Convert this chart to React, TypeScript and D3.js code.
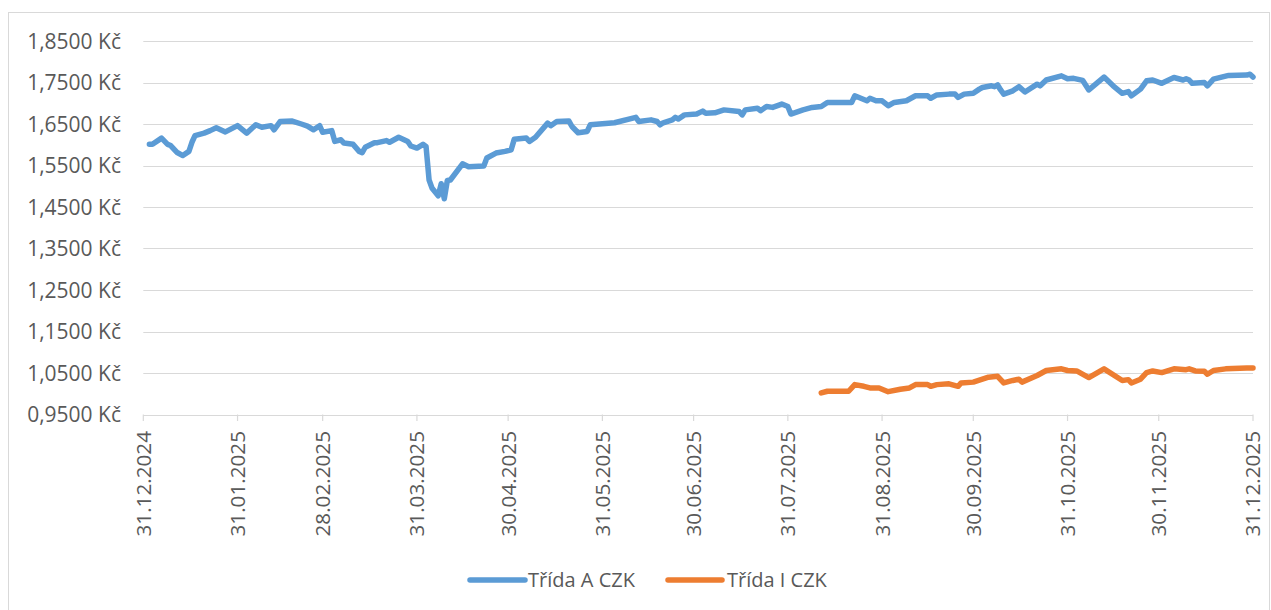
import React from "react";
import * as d3 from "d3";

// Day offsets counted from 31.12.2024, and values (CZK)
const daysA = [2, 3, 6, 8, 9, 11, 13, 15, 16, 17, 20, 22, 24, 27, 31, 34, 37, 39, 42, 43, 45, 49, 52, 54, 56, 58, 59, 62, 63, 65, 66, 69, 71, 72, 73, 76, 77, 80, 81, 84, 87, 88, 90, 92, 93, 94, 95, 97, 98, 99, 100, 101, 105, 107, 112, 113, 116, 119, 121, 122, 126, 127, 129, 133, 134, 136, 140, 141, 143, 146, 147, 155, 162, 163, 167, 169, 170, 171, 174, 175, 176, 178, 182, 184, 185, 188, 191, 196, 197, 198, 202, 203, 205, 207, 210, 212, 213, 217, 220, 223, 225, 228, 233, 234, 236, 238, 239, 241, 243, 245, 247, 251, 254, 258, 259, 261, 265, 267, 268, 270, 273, 275, 276, 279, 280, 281, 282, 283, 286, 288, 290, 294, 295, 297, 302, 304, 306, 309, 311, 316, 319, 322, 324, 325, 328, 330, 332, 335, 339, 342, 343, 344, 345, 349, 350, 352, 357, 363, 364, 365];
const valuesA = [1.601, 1.601, 1.616, 1.601, 1.598, 1.582, 1.574, 1.584, 1.606, 1.622, 1.628, 1.634, 1.641, 1.631, 1.646, 1.628, 1.648, 1.642, 1.646, 1.636, 1.656, 1.657, 1.650, 1.645, 1.636, 1.646, 1.630, 1.634, 1.608, 1.612, 1.604, 1.601, 1.584, 1.581, 1.594, 1.605, 1.605, 1.610, 1.606, 1.618, 1.608, 1.597, 1.592, 1.601, 1.596, 1.515, 1.495, 1.477, 1.506, 1.470, 1.514, 1.515, 1.554, 1.547, 1.549, 1.568, 1.580, 1.584, 1.588, 1.613, 1.616, 1.608, 1.618, 1.652, 1.646, 1.656, 1.657, 1.644, 1.629, 1.632, 1.648, 1.653, 1.666, 1.656, 1.660, 1.656, 1.648, 1.653, 1.660, 1.666, 1.662, 1.672, 1.674, 1.681, 1.676, 1.677, 1.684, 1.680, 1.672, 1.684, 1.688, 1.682, 1.692, 1.690, 1.698, 1.692, 1.674, 1.684, 1.690, 1.692, 1.702, 1.702, 1.702, 1.718, 1.712, 1.706, 1.712, 1.706, 1.706, 1.694, 1.702, 1.706, 1.718, 1.718, 1.712, 1.720, 1.722, 1.722, 1.714, 1.722, 1.724, 1.734, 1.738, 1.742, 1.740, 1.744, 1.732, 1.722, 1.730, 1.740, 1.727, 1.746, 1.742, 1.756, 1.766, 1.759, 1.760, 1.755, 1.732, 1.763, 1.742, 1.724, 1.728, 1.718, 1.734, 1.754, 1.756, 1.748, 1.762, 1.756, 1.759, 1.756, 1.748, 1.750, 1.742, 1.758, 1.767, 1.768, 1.770, 1.763];

const daysI = [223, 225, 232, 234, 237, 239, 242, 245, 249, 252, 254, 258, 259, 261, 265, 268, 269, 273, 276, 278, 281, 283, 286, 288, 289, 294, 297, 302, 304, 307, 311, 316, 322, 324, 325, 328, 330, 332, 335, 339, 343, 344, 346, 349, 350, 352, 356, 363, 365];
const valuesI = [1.002, 1.006, 1.006, 1.022, 1.018, 1.014, 1.014, 1.005, 1.011, 1.014, 1.022, 1.022, 1.018, 1.022, 1.024, 1.018, 1.026, 1.028, 1.035, 1.040, 1.042, 1.026, 1.032, 1.035, 1.028, 1.044, 1.056, 1.060, 1.056, 1.055, 1.039, 1.060, 1.032, 1.034, 1.026, 1.035, 1.051, 1.055, 1.051, 1.060, 1.058, 1.060, 1.055, 1.054, 1.047, 1.056, 1.060, 1.062, 1.062];

const xTickLabels = ["31.12.2024", "31.01.2025", "28.02.2025", "31.03.2025", "30.04.2025", "31.05.2025", "30.06.2025", "31.07.2025", "31.08.2025", "30.09.2025", "31.10.2025", "30.11.2025", "31.12.2025"];
const yTicks = [0.95, 1.05, 1.15, 1.25, 1.35, 1.45, 1.55, 1.65, 1.75, 1.85];
const seriesNames = ["Třída A CZK", "Třída I CZK"];
const seriesColors = ["#5B9BD5", "#ED7D31"];

const W = 1271;
const H = 610;
const FONT = "'Open Sans', 'Noto Sans', sans-serif";
const TEXT = "#595959";
const GRID = "#d9d9d9";

export default function App() {
  const parse = d3.utcParse("%d.%m.%Y");
  const start = parse(xTickLabels[0]) as Date;
  const end = parse(xTickLabels[xTickLabels.length - 1]) as Date;
  const x = d3.scaleUtc().domain([start, end]).range([143.3, 1253]);
  const y = d3.scaleLinear().domain([0.95, 1.85]).range([414.5, 41]);
  const toDate = (d: number) => d3.utcDay.offset(start, d);

  const line = d3
    .line<[number, number]>()
    .x((p) => x(toDate(p[0])))
    .y((p) => y(p[1]))
    .curve(d3.curveLinear);

  const dataA: [number, number][] = daysA.map((d, i) => [d, valuesA[i]]);
  const dataI: [number, number][] = daysI.map((d, i) => [d, valuesI[i]]);
  const fmt = (v: number) => v.toFixed(4).replace(".", ",") + " Kč";

  const legendItems = [
    { x1: 470, x2: 525, tx: 528 },
    { x1: 668, x2: 722, tx: 727 },
  ];

  return (
    <svg
      width={W}
      height={H}
      style={{ position: "absolute", left: 0, top: 0, background: "#fff" }}
      fontFamily={FONT}
    >
      <rect x={8.5} y={12.5} width={1261} height={610} fill="#fff" stroke={GRID} strokeWidth={1} />
      {yTicks.map((t) => (
        <g key={t}>
          <line x1={143.3} x2={1253} y1={Math.round(y(t)) + 0.5} y2={Math.round(y(t)) + 0.5} stroke={GRID} strokeWidth={1.2} />
          <text x={121} y={y(t)} dy="0.36em" textAnchor="end" fontSize={21} fill={TEXT}>
            {fmt(t)}
          </text>
        </g>
      ))}
      {xTickLabels.map((lab) => {
        const xp = x(parse(lab) as Date);
        return (
          <g key={lab}>
            <line x1={xp} x2={xp} y1={414.5} y2={421} stroke={GRID} strokeWidth={1.2} />
            <text
              transform={`translate(${xp},431) rotate(-90)`}
              dy="0.36em"
              textAnchor="end"
              fontSize={20.7}
              fill={TEXT}
            >
              {lab}
            </text>
          </g>
        );
      })}
      <path d={line(dataA) || ""} fill="none" stroke={seriesColors[0]} strokeWidth={5.5} strokeLinejoin="round" strokeLinecap="round" />
      <path d={line(dataI) || ""} fill="none" stroke={seriesColors[1]} strokeWidth={5.5} strokeLinejoin="round" strokeLinecap="round" />
      {legendItems.map((it, i) => (
        <g key={i}>
          <line x1={it.x1} x2={it.x2} y1={580} y2={580} stroke={seriesColors[i]} strokeWidth={5.5} strokeLinecap="round" />
          <text x={it.tx} y={580} dy="0.36em" fontSize={20} fill={TEXT}>
            {seriesNames[i]}
          </text>
        </g>
      ))}
    </svg>
  );
}
